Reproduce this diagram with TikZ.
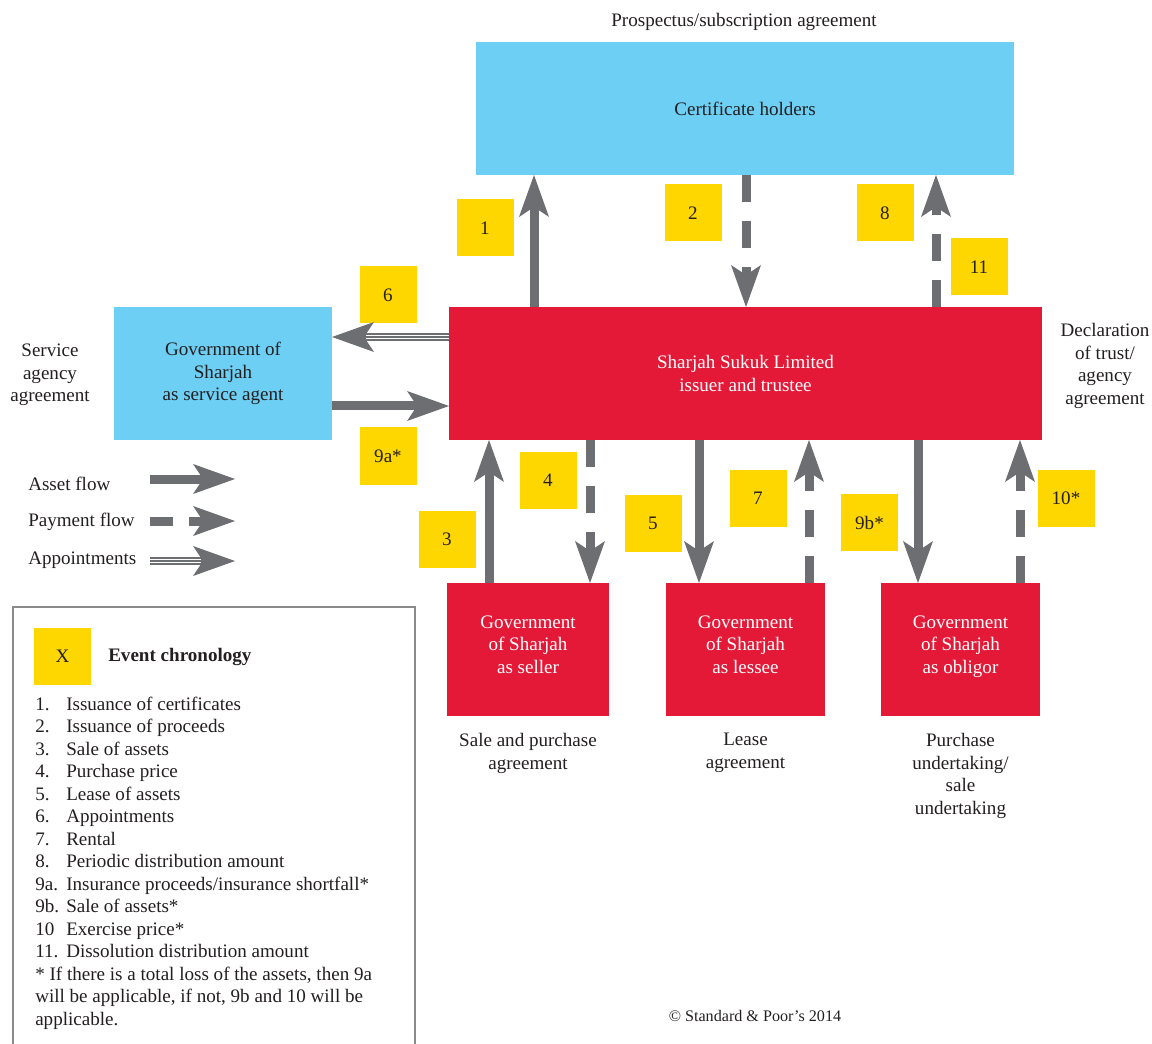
\documentclass[tikz,border=0pt]{standalone}
\usepackage{fontspec}
\setmainfont{Liberation Serif}
\usepackage{tikz}
\usetikzlibrary{arrows.meta}
\usetikzlibrary{positioning}
\usepackage{xcolor}

\newlength{\pu}
\setlength{\pu}{0.75pt}

\definecolor{sblue}{HTML}{6DCFF3}
\definecolor{sred}{HTML}{E31937}
\definecolor{syellow}{HTML}{FFD700}
\definecolor{sgray}{HTML}{6D6E71}
\definecolor{stext}{HTML}{231F20}
\definecolor{sframe}{HTML}{8A8A8A}

\tikzset{
  box/.style={minimum height=133\pu, inner sep=2pt, outer sep=0pt, align=center},
  bluebox/.style={box, fill=sblue},
  redbox/.style={box, fill=sred, text=white},
  govbox/.style={redbox, text depth=10\pu},
  ybox/.style={fill=syellow, minimum width=57\pu, minimum height=57\pu, inner sep=0pt, outer sep=0pt},
  lbl/.style={align=center, inner sep=0pt},
  tip/.style={-{Stealth[length=31.5pt, width=22.5pt, inset=7.5pt, line width=0pt]}},
  flow/.style={draw=sgray, line width=9\pu, tip},
  pay/.style={flow, dash pattern=on 27\pu off 19\pu},
  apptouter/.style={draw=sgray, line width=7.5\pu, tip},
  apptgap/.style={draw=white, line width=4.5\pu, shorten >=34\pu},
  apptmid/.style={draw=sgray, line width=1.5\pu, shorten >=34\pu},
}

\begin{document}
\begin{tikzpicture}[x=\pu, y=-\pu, font=\fontsize{14.3}{16.9}\selectfont, text=stext]
\useasboundingbox (0,0) rectangle (1152,1044);

\node [lbl] (prosp) at (744,22) {Prospectus/subscription agreement};
\node [bluebox, minimum width=538\pu] (holders) at (745,108.5) {Certificate holders};
\node [redbox, minimum width=593\pu] (ssl) at (745.5,373.5) {Sharjah Sukuk Limited\\issuer and trustee};
\node [bluebox, minimum width=218\pu] (agent) at (223,373.5) {Government of\\Sharjah\\as service agent};
\node [govbox, minimum width=162\pu] (seller) at (528,649.5) {Government\\of Sharjah\\as seller};
\node [govbox, minimum width=159\pu] (lessee) at (745.5,649.5) {Government\\of Sharjah\\as lessee};
\node [govbox, minimum width=159\pu] (obligor) at (960.5,649.5) {Government\\of Sharjah\\as obligor};

\node [lbl] (svcagr) at (50,375) {Service\\agency\\agreement};
\node [lbl] (decl) at (1105,366) {Declaration\\of trust/\\agency\\agreement};
\node [lbl, below=17\pu of seller] (spa) {Sale and purchase\\agreement};
\node [lbl, below=17\pu of lessee] (lease) {Lease\\agreement};
\node [lbl, below=17\pu of obligor] (undert) {Purchase\\undertaking/\\sale\\undertaking};

\node [ybox] (n1) at (485,228) {1};
\node [ybox] (n2) at (693,213) {2};
\node [ybox] (n8) at (885,213) {8};
\node [ybox] (n11) at (979,267) {11};
\node [ybox] (n6) at (388,295) {6};
\node [ybox] (n9a) at (388,456) {9a*};
\node [ybox] (n4) at (548,480) {4};
\node [ybox] (n3) at (447,539) {3};
\node [ybox] (n5) at (653,523) {5};
\node [ybox] (n7) at (758,498) {7};
\node [ybox] (n9b) at (869.5,522.5) {9b*};
\node [ybox] (n10) at (1066,498) {10*};

\draw [flow] (ssl.north -| 534,0) -- (holders.south -| 534,0);
\draw [pay] (holders.south -| 746,0) -- (ssl.north -| 746,0);
\draw [pay] (ssl.north -| 936,0) -- (holders.south -| 936,0);
\draw [apptouter] (ssl.west |- 0,337) -- (agent.east |- 0,337);
\draw [apptgap] (ssl.west |- 0,337) -- (agent.east |- 0,337);
\draw [apptmid] (ssl.west |- 0,337) -- (agent.east |- 0,337);
\draw [flow] (agent.east |- 0,406) -- (ssl.west |- 0,406);
\draw [flow] (seller.north -| 489,0) -- (ssl.south -| 489,0);
\draw [pay] (ssl.south -| 590,0) -- (seller.north -| 590,0);
\draw [flow] (ssl.south -| 699,0) -- (lessee.north -| 699,0);
\draw [pay] (lessee.north -| 809,0) -- (ssl.south -| 809,0);
\draw [flow] (ssl.south -| 918,0) -- (obligor.north -| 918,0);
\draw [pay] (obligor.north -| 1020,0) -- (ssl.south -| 1020,0);

\node [lbl, anchor=west] (kasset) at (28,484) {Asset flow};
\node [lbl, anchor=west] (kpay) at (28,522) {Payment flow};
\node [lbl, anchor=west] (kappt) at (28,560) {Appointments};
\coordinate (ka1) at (150,479);
\coordinate (ka2) at (235,479);
\coordinate (kp1) at (150,521);
\coordinate (kp2) at (235,521);
\coordinate (kt1) at (150,561);
\coordinate (kt2) at (235,561);
\draw [flow] (ka1) -- (ka2);
\draw [flow, dash pattern=on 23\pu off 16\pu] (kp1) -- (kp2);
\draw [apptouter] (kt1) -- (kt2);
\draw [apptgap] (kt1) -- (kt2);
\draw [apptmid] (kt1) -- (kt2);

\draw [sframe, line width=1.5\pu] (13,1044) -- (13,607) -- (415,607) -- (415,1044);
\node [ybox] (nx) at (62.5,656.5) {X};
\node [lbl, anchor=west, font=\fontsize{14.3}{16.9}\selectfont\bfseries] (chron) at (108,657) {Event chronology};
\node [anchor=base west, inner sep=0pt] (events) at (35,710) {%
\begin{tabular}[t]{@{}p{31\pu}@{}l@{}}
1. & Issuance of certificates\\
2. & Issuance of proceeds\\
3. & Sale of assets\\
4. & Purchase price\\
5. & Lease of assets\\
6. & Appointments\\
7. & Rental\\
8. & Periodic distribution amount\\
9a. & Insurance proceeds/insurance shortfall*\\
9b. & Sale of assets*\\
10 & Exercise price*\\
11. & Dissolution distribution amount\\
\multicolumn{2}{@{}l@{}}{* If there is a total loss of the assets, then 9a}\\
\multicolumn{2}{@{}l@{}}{will be applicable, if not, 9b and 10 will be}\\
\multicolumn{2}{@{}l@{}}{applicable.}
\end{tabular}};

\node [lbl, font=\fontsize{12.1}{14}\selectfont] (copy) at (755,1016) {\textcopyright{} Standard \& Poor's 2014};
\end{tikzpicture}
\end{document}
